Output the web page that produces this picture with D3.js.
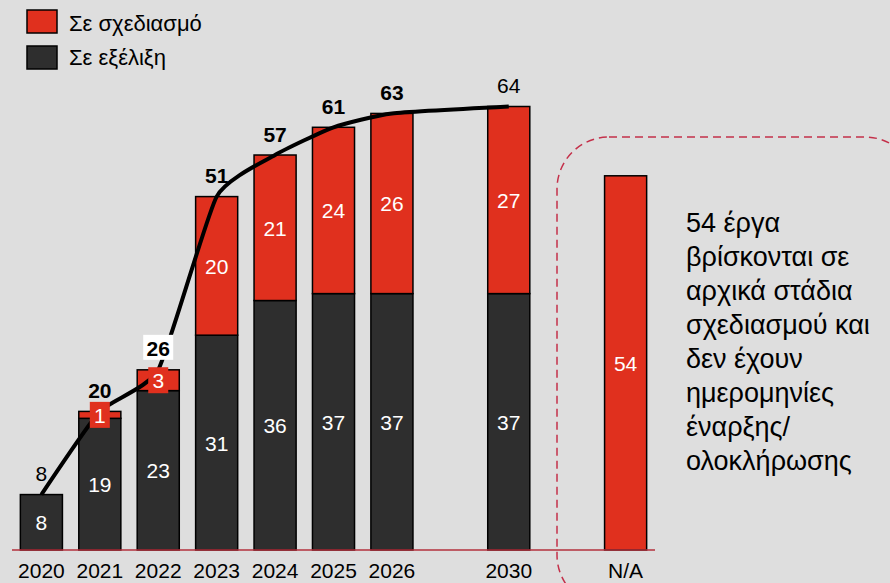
<!DOCTYPE html>
<html>
<head>
<meta charset="utf-8">
<script src="https://cdn.jsdelivr.net/npm/d3@7"></script>
<style>
  html, body { margin: 0; padding: 0; background: #dedede; }
  svg { display: block; font-family: "Liberation Sans", Arial, sans-serif; }
</style>
</head>
<body>
<div id="chart"></div>
<script>
const width = 890;
const height = 583;

// data
const categories = ["2020", "2021", "2022", "2023", "2024", "2025", "2026", "2030", "N/A"];
const inProgress = [8, 19, 23, 31, 36, 37, 37, 37, 0];   // Σε εξέλιξη
const planned    = [0, 1, 3, 20, 21, 24, 26, 27, 54];    // Σε σχεδιασμό
const totals     = [8, 20, 26, 51, 57, 61, 63, 64, null];
const slots = ["2020", "2021", "2022", "2023", "2024", "2025", "2026", "_a", "2030", "_b", "N/A"];
const noteLines = ["54 έργα", "βρίσκονται σε", "αρχικά στάδια", "σχεδιασμού και",
  "δεν έχουν", "ημερομηνίες", "έναρξης/", "ολοκλήρωσης"];

const boldTotals = ["2021", "2022", "2023", "2024", "2025", "2026"];
const red = "#e0301e";
const dark = "#2e2e2e";

const rows = categories.map((c, i) => ({ cat: c, dark: inProgress[i], red: planned[i], total: totals[i] }));

const svg = d3.select("#chart").append("svg")
  .attr("width", width)
  .attr("height", height);

svg.append("rect").attr("width", width).attr("height", height).attr("fill", "#dedede");

const x = d3.scaleBand().domain(slots).range([4, 663]).padding(0.28);
const y = d3.scaleLinear().domain([0, 64]).range([550, 106.5]);

// dashed rounded box around N/A
svg.append("rect")
  .attr("x", 557).attr("y", 137)
  .attr("width", 360).attr("height", 470)
  .attr("rx", 52).attr("ry", 52)
  .attr("fill", "none")
  .attr("stroke", "#c4304a")
  .attr("stroke-width", 1.5)
  .attr("stroke-dasharray", "8,5");

// bars
const bars = svg.append("g");
bars.selectAll("rect.dark")
  .data(rows.filter(d => d.dark > 0))
  .join("rect")
  .attr("x", d => x(d.cat))
  .attr("width", x.bandwidth())
  .attr("y", d => y(d.dark))
  .attr("height", d => y(0) - y(d.dark))
  .attr("fill", dark)
  .attr("stroke", "#000")
  .attr("stroke-width", 1.5);

bars.selectAll("rect.red")
  .data(rows.filter(d => d.red > 0))
  .join("rect")
  .attr("x", d => x(d.cat))
  .attr("width", x.bandwidth())
  .attr("y", d => y(d.dark + d.red))
  .attr("height", d => y(d.dark) - y(d.dark + d.red))
  .attr("fill", red)
  .attr("stroke", "#000")
  .attr("stroke-width", 1.5);

// baseline
svg.append("line")
  .attr("x1", 12).attr("x2", 655)
  .attr("y1", y(0)).attr("y2", y(0))
  .attr("stroke", "#b3303c")
  .attr("stroke-width", 1.5);

// x axis labels
const xAxis = svg.append("g")
  .attr("transform", `translate(0,${y(0)})`)
  .call(d3.axisBottom(x).tickValues(categories).tickSize(0).tickPadding(13));
xAxis.select(".domain").remove();
xAxis.selectAll("text")
  .attr("font-size", 21)
  .attr("font-family", "Liberation Sans, Arial, sans-serif")
  .attr("fill", "#000");

// total line
const linePts = rows.filter(d => d.total != null);
svg.append("path")
  .datum(linePts)
  .attr("fill", "none")
  .attr("stroke", "#000")
  .attr("stroke-width", 4)
  .attr("stroke-linejoin", "round")
  .attr("d", d3.line()
    .x(d => x(d.cat) + x.bandwidth() / 2)
    .y(d => y(d.total))
    .curve(d3.curveCardinal.tension(0.5)));

// segment labels
const segs = [];
rows.forEach(d => {
  if (d.dark > 0) segs.push({ cat: d.cat, v: d.dark, mid: d.dark / 2 });
  if (d.red > 0) segs.push({ cat: d.cat, v: d.red, mid: d.dark + d.red / 2 });
});

const segG = svg.append("g");
segs.filter(s => y(0) - y(s.v) < 26).forEach(s => {
  segG.append("rect")
    .attr("x", x(s.cat) + x.bandwidth() / 2 - 10)
    .attr("y", y(s.mid) - 13)
    .attr("width", 20)
    .attr("height", 26)
    .attr("fill", red);
});
segG.selectAll("text")
  .data(segs)
  .join("text")
  .attr("x", d => x(d.cat) + x.bandwidth() / 2)
  .attr("y", d => y(d.mid))
  .attr("dy", "0.38em")
  .attr("text-anchor", "middle")
  .attr("font-size", 21)
  .attr("fill", "#fff")
  .text(d => d.v);

// total labels
const totG = svg.append("g");
linePts.filter(d => d.cat === "2022").forEach(d => {
  totG.append("rect")
    .attr("x", x(d.cat) + x.bandwidth() / 2 - 15)
    .attr("y", y(d.total) - 35)
    .attr("width", 30)
    .attr("height", 25)
    .attr("fill", "#fff");
});
totG.selectAll("text")
  .data(linePts)
  .join("text")
  .attr("x", d => x(d.cat) + x.bandwidth() / 2)
  .attr("y", d => y(d.total) - 21)
  .attr("dy", "0.36em")
  .attr("text-anchor", "middle")
  .attr("font-size", 21)
  .attr("font-weight", d => boldTotals.includes(d.cat) ? "bold" : "normal")
  .attr("fill", "#000")
  .text(d => d.total);

// legend
const legend = [
  { label: "Σε σχεδιασμό", color: red },
  { label: "Σε εξέλιξη", color: dark }
];
const lg = svg.append("g");
legend.forEach((l, i) => {
  lg.append("rect")
    .attr("x", 27).attr("y", 10 + i * 36)
    .attr("width", 30).attr("height", 23)
    .attr("fill", l.color)
    .attr("stroke", "#000")
    .attr("stroke-width", 1.5);
  lg.append("text")
    .attr("x", 69).attr("y", 30.5 + i * 34.5)
    .attr("font-size", 22)
    .attr("fill", "#000")
    .text(l.label);
});

// note text
svg.append("text")
  .attr("x", 686)
  .attr("y", 232)
  .attr("font-size", 27)
  .attr("fill", "#000")
  .selectAll("tspan")
  .data(noteLines)
  .join("tspan")
  .attr("x", 686)
  .attr("dy", (d, i) => i === 0 ? 0 : 34)
  .text(d => d);
</script>
</body>
</html>
